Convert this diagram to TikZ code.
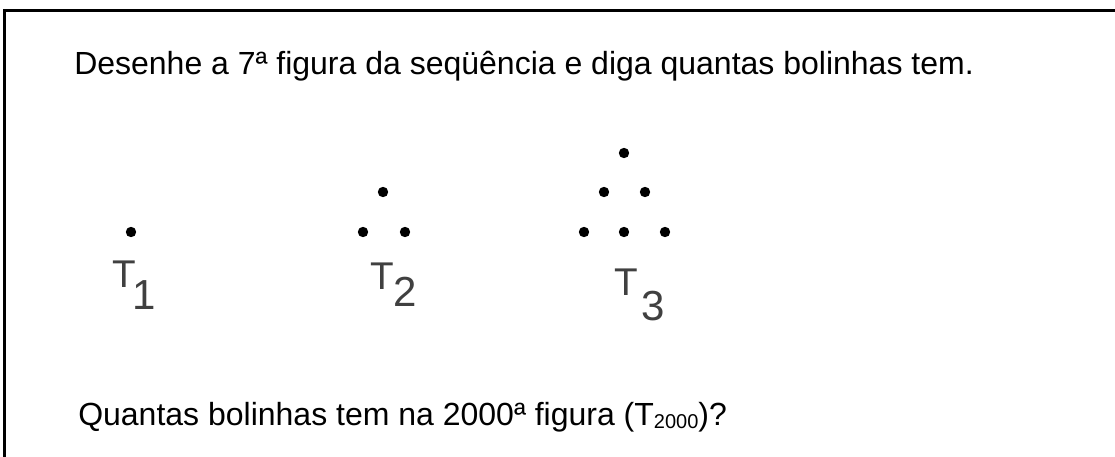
\documentclass[tikz,border=0pt]{standalone}
\usepackage{fontspec}
\setmainfont{Liberation Sans}
\begin{document}
\begin{tikzpicture}[x=0.75pt,y=-0.75pt,
  dot/.style={circle,fill=black,inner sep=0pt,minimum size=7.8pt},
  qtext/.style={anchor=base west,inner sep=0pt,font=\fontsize{24}{28}\selectfont},
  lab/.style={anchor=base west,inner sep=0pt,text=black!75,font=\fontsize{29}{34}\selectfont},
  sub/.style={anchor=base west,inner sep=0pt,text=black!75,font=\fontsize{31.5}{36}\selectfont}]
\useasboundingbox (0,0) rectangle (1115,457);
\fill[white] (0,0) rectangle (1115,457);
% frame (top and left)
\draw[line width=1.6pt] (1115,10.5) -- (4.5,10.5) -- (4.5,457);
% texts
\node[qtext] (q1) at (74,74) {Desenhe a 7ª figura da seqüência e diga quantas bolinhas tem.};
\node[qtext] (q2) at (78,425) {Quantas bolinhas tem na 2000ª figura (T\raisebox{-0.2ex}{\fontsize{15}{18}\selectfont 2000})?};
% T1
\node[dot] (a1) at (131,232) {};
\node[lab] (t1) at (112,287) {T};
\node[sub] (s1) at (132,309) {1};
% T2
\node[dot] (b1) at (383,192) {};
\node[dot] (b2) at (363,232) {};
\node[dot] (b3) at (405,232) {};
\node[lab] (t2) at (370,289) {T};
\node[sub] (s2) at (393,306) {2};
% T3
\node[dot] (c1) at (624,153) {};
\node[dot] (c2) at (604,192) {};
\node[dot] (c3) at (645,192) {};
\node[dot] (c4) at (584,232) {};
\node[dot] (c5) at (624,232) {};
\node[dot] (c6) at (665,232) {};
\node[lab] (t3) at (614,295) {T};
\node[sub] (s3) at (641,320) {3};
\end{tikzpicture}
\end{document}
